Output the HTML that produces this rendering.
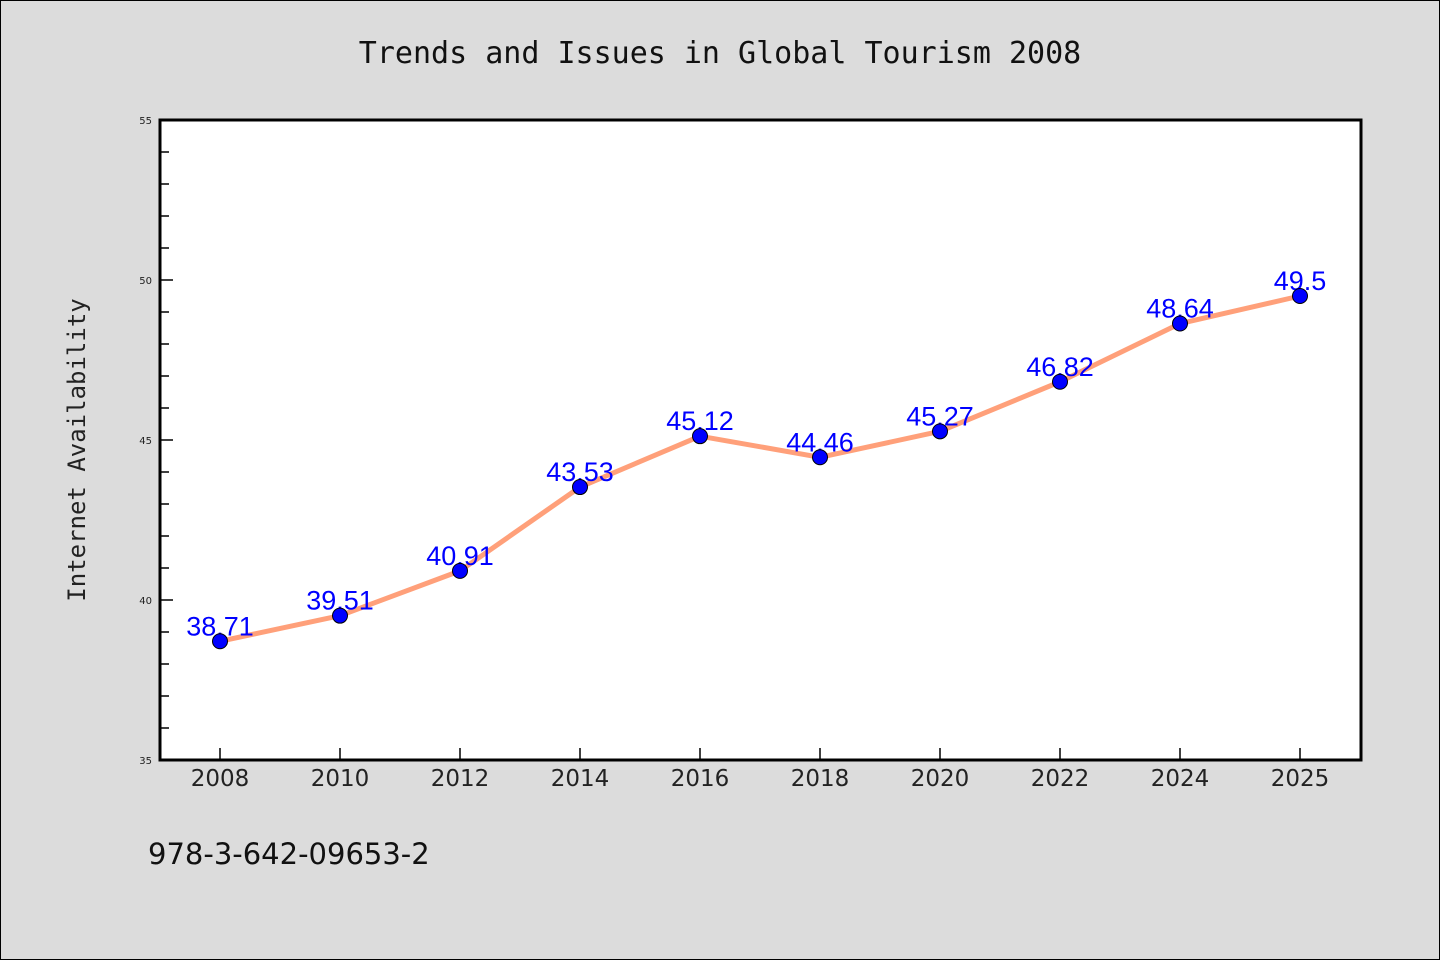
<!DOCTYPE html>
<html><head><meta charset="utf-8"><style>
html,body{margin:0;padding:0;background:#dcdcdc;}
svg{display:block;font-family:"DejaVu Sans","Liberation Sans",sans-serif;}
</style></head><body>
<svg width="1440" height="960">
<rect x="0.5" y="0.5" width="1439" height="959" fill="#dcdcdc" stroke="#000"/>
<text x="720" y="63" text-anchor="middle" font-size="30" font-family="DejaVu Sans Mono, monospace" fill="#111">Trends and Issues in Global Tourism 2008</text>
<rect x="160" y="120" width="1201" height="640" fill="#fff"/>
<g id="ticks"></g>
<g id="series"></g>
<rect x="160" y="120" width="1201" height="640" fill="none" stroke="#000" stroke-width="3"/>
<text transform="translate(85,450) rotate(-90)" text-anchor="middle" font-size="24" font-family="DejaVu Sans Mono, monospace" fill="#222">Internet Availability</text>
<text x="148" y="864" font-size="29" fill="#111">978-3-642-09653-2</text>
</svg>
<script>
const categories=["2008","2010","2012","2014","2016","2018","2020","2022","2024","2025"];
const values=[38.71,39.51,40.91,43.53,45.12,44.46,45.27,46.82,48.64,49.5];
const labels=["38.71","39.51","40.91","43.53","45.12","44.46","45.27","46.82","48.64","49.5"];
const yTicks=[35,40,45,50,55];
(function(){
const NS="http://www.w3.org/2000/svg";
const yMin=35,yMax=55,pTop=120,pBot=760,pLeft=160;
function y(v){return pBot-(v-yMin)/(yMax-yMin)*(pBot-pTop);}
function x(i){return 220+i*120;}
function mk(t,a,p){const e=document.createElementNS(NS,t);for(const k in a)e.setAttribute(k,a[k]);p.appendChild(e);return e;}
const tk=document.getElementById('ticks');
for(let v=yMin;v<=yMax;v++){
 const major=yTicks.includes(v);
 const l=mk('line',{x1:pLeft,x2:pLeft+(major?13:9),y1:y(v),y2:y(v),stroke:'#000','stroke-width':1.5},tk);
 
 
}
yTicks.forEach(v=>{
 const t=mk('text',{x:152,y:y(v)+4,'text-anchor':'end','font-size':10,fill:'#222'},tk);t.textContent=v;
 
 
});
categories.forEach((c,i)=>{
 const l=mk('line',{x1:x(i),x2:x(i),y1:pBot,y2:pBot-12,stroke:'#000','stroke-width':1.5},tk);
 
 
 const t=mk('text',{x:x(i),y:786,'text-anchor':'middle','font-size':23,fill:'#222'},tk);t.textContent=c;
 
 
});
const s=document.getElementById('series');
const pl=mk('polyline',{points:values.map((v,i)=>x(i)+','+y(v)).join(' '),fill:'none',stroke:'#ffa07a','stroke-width':5,'stroke-linejoin':'round'},s);


values.forEach((v,i)=>{
 const t=mk('text',{x:x(i),y:y(v)-6,'text-anchor':'middle','font-size':27,fill:'#0000ff','font-family':'Liberation Sans, sans-serif'},s);t.textContent=labels[i];
 
 
});
values.forEach((v,i)=>{
 const c=mk('circle',{cx:x(i),cy:y(v),r:7.5,fill:'#0000ff',stroke:'#000','stroke-width':1},s);
 
 
});
})();
</script>
</body></html>
